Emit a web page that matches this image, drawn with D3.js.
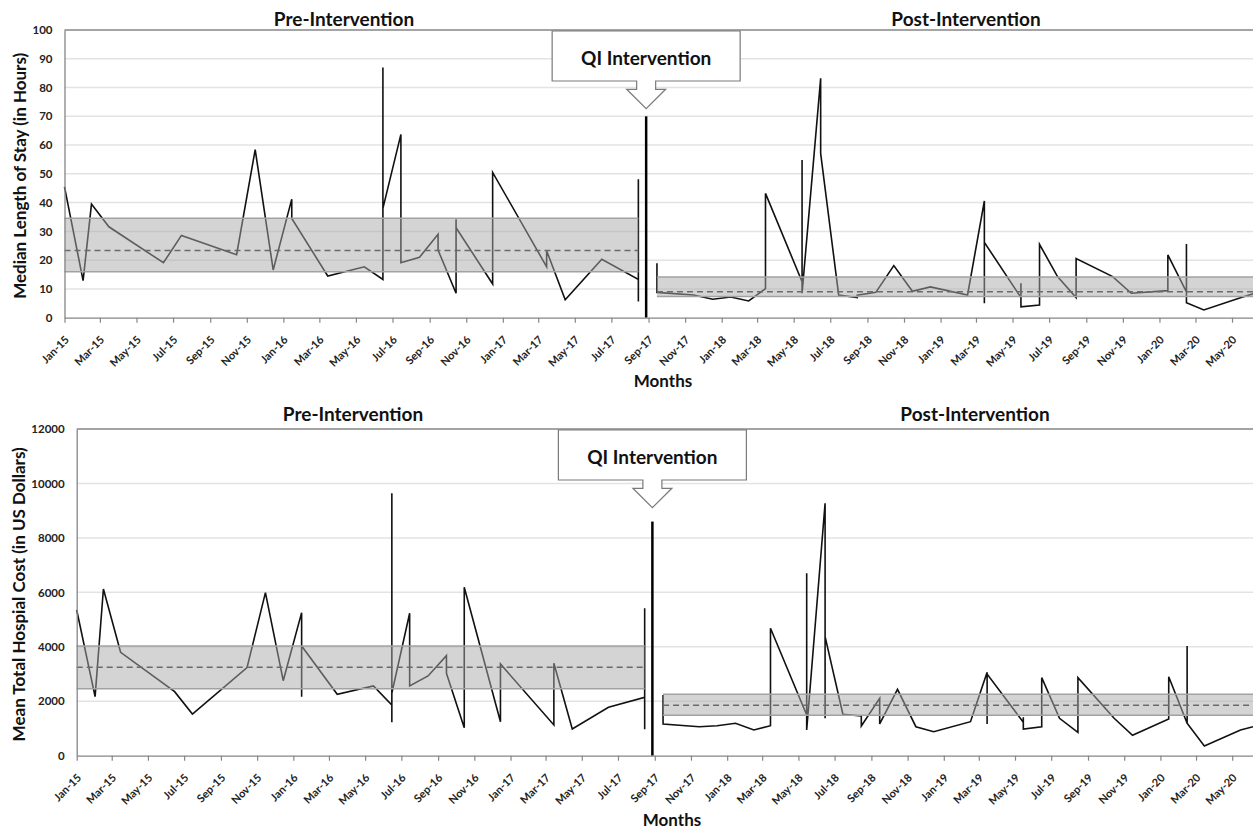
<!DOCTYPE html>
<html><head><meta charset="utf-8">
<script src="https://cdn.jsdelivr.net/npm/d3@7"></script>
<style>
body{margin:0;background:#fff;}
svg{display:block;font-family:Lato,"Open Sans",sans-serif;font-weight:bold;}
</style></head><body>
<svg id="chart" width="1253" height="829"></svg>
<script>
// ---------------- DATA ----------------
const axisStart = "2015-01-01";
const axisEnd = "2020-06-05";
const interventionDate = "2017-08-28";
const sectionTitles = ["Pre-Intervention", "Post-Intervention"];
const calloutText = "QI Intervention";
const xAxisTitle = "Months";

// Panel 1: Median length of stay (hours)
const losTicks = [0, 10, 20, 30, 40, 50, 60, 70, 80, 90, 100];
const losPreDates = ["2015-01-01","2015-02-01","2015-02-15","2015-03-16","2015-06-15","2015-07-15","2015-10-15","2015-11-15","2015-12-15","2016-01-15","2016-01-15","2016-03-15","2016-05-15","2016-06-15","2016-06-15","2016-06-15","2016-07-15","2016-07-15","2016-08-15","2016-09-15","2016-09-15","2016-10-15","2016-10-15","2016-10-15","2016-12-15","2016-12-15","2017-03-15","2017-03-15","2017-04-15","2017-06-15","2017-08-15","2017-08-15","2017-08-15"];
const losPreValues = [45.5,12.9,39.5,31.6,19.1,28.6,21.9,58.4,16.6,41.2,34.5,14.5,17.7,13.3,87.0,38.0,63.7,19.1,21.0,29.0,23.5,8.5,34.2,31.3,11.7,50.5,17.7,23.3,6.2,20.3,13.3,48.1,5.6];
const losPostDates = ["2017-09-15","2017-09-15","2017-11-15","2017-12-17","2018-01-16","2018-02-15","2018-03-15","2018-03-15","2018-05-15","2018-05-15","2018-05-15","2018-06-15","2018-06-15","2018-07-15","2018-08-15","2018-08-15","2018-09-15","2018-10-15","2018-11-15","2018-12-15","2019-02-15","2019-03-15","2019-03-15","2019-03-15","2019-05-15","2019-05-15","2019-05-15","2019-06-15","2019-06-15","2019-07-15","2019-08-15","2019-08-15","2019-10-15","2019-11-15","2020-01-15","2020-01-15","2020-02-15","2020-02-15","2020-02-15","2020-03-15","2020-05-15","2020-06-05"];
const losPostValues = [18.9,8.8,7.9,6.4,7.2,5.8,10.1,43.2,12.5,54.8,8.5,83.2,57.1,7.9,7.0,7.8,8.8,18.1,9.2,10.7,7.9,40.6,5.0,26.2,7.0,12.0,3.8,4.4,25.5,14.3,7.0,20.6,14.3,8.5,9.4,21.8,9.0,25.6,5.2,2.7,6.9,8.3];
const losPreLimits = [16.0, 23.4, 34.55];   // lower, mean, upper
const losPostLimits = [7.4, 9.05, 14.15];
const losInterventionTop = 70;

// Panel 2: Mean total hospital cost (US dollars)
const costTicks = [0, 2000, 4000, 6000, 8000, 10000, 12000];
const costPreDates = ["2015-01-01","2015-02-01","2015-02-15","2015-03-16","2015-06-15","2015-07-15","2015-10-15","2015-11-15","2015-12-15","2016-01-15","2016-01-15","2016-01-15","2016-03-15","2016-05-15","2016-06-15","2016-06-15","2016-06-15","2016-06-15","2016-07-15","2016-07-15","2016-08-15","2016-09-15","2016-09-15","2016-10-15","2016-10-15","2016-12-15","2016-12-15","2017-03-15","2017-03-15","2017-04-15","2017-06-15","2017-08-15","2017-08-15","2017-08-15"];
const costPreValues = [5352,2168,6124,3798,2352,1532,3233,5990,2755,5254,2168,4030,2255,2561,1862,9640,1227,2300,5231,2561,2928,3674,3027,1029,6187,1249,3369,1128,3394,981,1778,2145,5415,970];
const costPostDates = ["2017-09-15","2017-09-15","2017-11-15","2017-12-15","2018-01-15","2018-02-15","2018-03-15","2018-03-15","2018-05-15","2018-05-15","2018-05-15","2018-06-15","2018-06-15","2018-06-15","2018-07-15","2018-08-15","2018-08-15","2018-09-15","2018-09-15","2018-10-15","2018-11-15","2018-12-15","2019-02-15","2019-03-15","2019-03-15","2019-03-15","2019-05-15","2019-05-15","2019-05-15","2019-06-15","2019-06-15","2019-07-15","2019-08-15","2019-08-15","2019-10-15","2019-11-15","2020-01-15","2020-01-15","2020-02-15","2020-02-15","2020-02-15","2020-03-15","2020-05-15","2020-06-05"];
const costPostValues = [2230,1165,1065,1102,1190,944,1102,4680,1495,6700,944,9273,1374,4372,1521,1458,1091,2109,1165,2439,1065,882,1249,3064,1165,3000,1227,1410,981,1065,2866,1374,860,2866,1374,749,1348,2902,1190,4030,1190,356,944,1065];
const costPreLimits = [2461, 3247, 4030];
const costPostLimits = [1484, 1851, 2255];
const costInterventionTop = 8600;

// ---------------- DRAW ----------------
const parse = d3.timeParse("%Y-%m-%d");
const svg = d3.select("#chart");
const fmt = d3.timeFormat("%b-%y");

const panels = [
  {top: 30, bottom: 317.7, left: 64.5, right: 1253,
   ticks: losTicks, yTitle: "Median Length of Stay (in Hours)", yTitleX: 20,
   preD: losPreDates, preV: losPreValues, postD: losPostDates, postV: losPostValues,
   preL: losPreLimits, postL: losPostLimits, ivTop: losInterventionTop,
   titleY: 26, preTitleX: 344, postTitleX: 966, monthsX: 663, monthsY: 387},
  {top: 429, bottom: 755.7, left: 76.7, right: 1253,
   ticks: costTicks, yTitle: "Mean Total Hospial Cost (in US Dollars)", yTitleX: 19,
   preD: costPreDates, preV: costPreValues, postD: costPostDates, postV: costPostValues,
   preL: costPreLimits, postL: costPostLimits, ivTop: costInterventionTop,
   titleY: 421, preTitleX: 353, postTitleX: 975, monthsX: 672, monthsY: 826}
];

panels.forEach(p => {
  const g = svg.append("g");
  const x = d3.scaleTime().domain([parse(axisStart), parse(axisEnd)]).range([p.left, p.right]);
  const y = d3.scaleLinear().domain([0, d3.max(p.ticks)]).range([p.bottom, p.top]);

  // gridlines
  g.append("g").selectAll("line").data(p.ticks.slice(1, -1)).join("line")
    .attr("x1", p.left).attr("x2", p.right)
    .attr("y1", d => y(d)).attr("y2", d => y(d))
    .attr("stroke", "#e3e3e3").attr("stroke-width", 1.5);

  const pre = p.preD.map((d, i) => ({date: parse(d), value: p.preV[i]}));
  const post = p.postD.map((d, i) => ({date: parse(d), value: p.postV[i]}));
  const line = d3.line().x(d => x(d.date)).y(d => y(d.value));

  [pre, post].forEach(s => {
    g.append("path").datum(s).attr("d", line)
      .attr("fill", "none").attr("stroke", "#111").attr("stroke-width", 1.6)
      .attr("stroke-linejoin", "miter");
  });

  // control bands
  const bands = [
    {x0: pre[0].date, x1: pre[pre.length - 1].date, lim: p.preL},
    {x0: post[0].date, x1: parse(axisEnd), lim: p.postL}
  ];
  bands.forEach(b => {
    g.append("rect")
      .attr("x", x(b.x0)).attr("width", x(b.x1) - x(b.x0))
      .attr("y", y(b.lim[2])).attr("height", y(b.lim[0]) - y(b.lim[2]))
      .attr("fill", "#a9a9a9").attr("fill-opacity", 0.5);
    [b.lim[0], b.lim[2]].forEach(v => {
      g.append("line").attr("x1", x(b.x0)).attr("x2", x(b.x1))
        .attr("y1", y(v)).attr("y2", y(v))
        .attr("stroke", "#a2a2a2").attr("stroke-width", 1.5);
    });
    g.append("line").attr("x1", x(b.x0)).attr("x2", x(b.x1))
      .attr("y1", y(b.lim[1])).attr("y2", y(b.lim[1]))
      .attr("stroke", "#6a6a6a").attr("stroke-width", 1.5)
      .attr("stroke-dasharray", "6,4");
  });

  // intervention line
  const ix = x(parse(interventionDate));
  g.append("line").attr("x1", ix).attr("x2", ix)
    .attr("y1", y(0)).attr("y2", y(p.ivTop))
    .attr("stroke", "#000").attr("stroke-width", 2.5);

  // axes
  const xAxis = d3.axisBottom(x).ticks(d3.timeMonth.every(2)).tickFormat(fmt)
    .tickSize(5).tickSizeOuter(0);
  const xg = g.append("g").attr("transform", `translate(0,${p.bottom})`).call(xAxis);
  xg.select(".domain").attr("stroke", "#868686").attr("stroke-width", 1.3);
  xg.selectAll(".tick line").attr("stroke", "#868686").attr("stroke-width", 1.2);
  xg.selectAll(".tick text")
    .attr("font-family", "Lato").attr("font-weight", "bold").attr("font-size", 11)
    .attr("fill", "#222")
    .attr("text-anchor", "end")
    .attr("x", 0).attr("y", 0).attr("dy", "0.35em")
    .attr("transform", "translate(2,20) rotate(-45)");

  const yAxis = d3.axisLeft(y).tickValues(p.ticks).tickFormat(d3.format("d"))
    .tickSize(0).tickPadding(12);
  const yg = g.append("g").attr("transform", `translate(${p.left},0)`).call(yAxis);
  yg.select(".domain").attr("stroke", "#868686").attr("stroke-width", 1.3);
  yg.selectAll(".tick text")
    .attr("font-family", "Lato").attr("font-weight", "bold").attr("font-size", 11.5)
    .attr("fill", "#222");

  // top border
  g.append("line").attr("x1", p.left).attr("x2", p.right)
    .attr("y1", p.top).attr("y2", p.top)
    .attr("stroke", "#868686").attr("stroke-width", 1.3);

  // callout
  const cw = 94, ch = 50, sw = 9.5, hw = 19.5;
  const t0 = p.top + 1, t1 = t0 + ch, t2 = t1 + 8.3, tip = t2 + 19.4;
  const path = `M${ix - cw},${t0} L${ix + cw},${t0} L${ix + cw},${t1} L${ix + sw},${t1} L${ix + sw},${t2} L${ix + hw},${t2} L${ix},${tip} L${ix - hw},${t2} L${ix - sw},${t2} L${ix - sw},${t1} L${ix - cw},${t1} Z`;
  g.append("path").attr("d", path).attr("fill", "#fff")
    .attr("stroke", "#7a7a7a").attr("stroke-width", 1.2);
  g.append("text").attr("x", ix).attr("y", t0 + 34)
    .attr("text-anchor", "middle").attr("font-size", 19).attr("fill", "#111")
    .text(calloutText);

  // section titles
  g.append("text").attr("x", p.preTitleX).attr("y", p.titleY)
    .attr("text-anchor", "middle").attr("font-size", 19).attr("fill", "#111")
    .text(sectionTitles[0]);
  g.append("text").attr("x", p.postTitleX).attr("y", p.titleY)
    .attr("text-anchor", "middle").attr("font-size", 19).attr("fill", "#111")
    .text(sectionTitles[1]);

  // axis titles
  g.append("text").attr("x", p.monthsX).attr("y", p.monthsY)
    .attr("text-anchor", "middle").attr("font-size", 17).attr("fill", "#111")
    .text(xAxisTitle);
  g.append("text")
    .attr("transform", `translate(${p.yTitleX + 6},${(p.top + p.bottom) / 2 + 2}) rotate(-90)`)
    .attr("text-anchor", "middle").attr("font-size", 17).attr("fill", "#111")
    .text(p.yTitle);
});
</script>
</body></html>
